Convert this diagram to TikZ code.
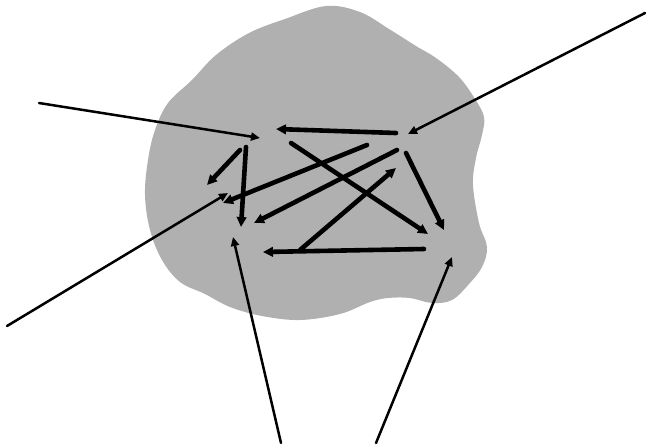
\documentclass[tikz,border=0pt]{standalone}
\usetikzlibrary{arrows.meta}
\begin{document}
\begin{tikzpicture}[x=1pt,y=-1pt,
  ext/.style={line width=2.5pt, line cap=round, -{Triangle[length=9pt,width=8pt]}},
  int/.style={line width=4.6pt, line cap=round, -{Triangle[length=10pt,width=9.5pt]}},
  cloudfill/.style={fill=black!31, draw=none}]
\useasboundingbox (0,0) rectangle (647,445);
% cloud
\fill[cloudfill] plot[smooth cycle, tension=0.6] coordinates {
 (326,6) (360,12) (389,29) (416,46) (436,58) (459,77) (475,99) (484,117)
 (482,135) (476,158) (473,185) (479,223) (487,247) (482,267) (469,284)
 (452,300) (432,303) (410,298) (388,298) (370,302) (340,314) (300,320)
 (262,316) (230,307) (205,294) (180,282) (162,260) (150,230) (145,195)
 (148,160) (155,130) (168,103) (192,80) (216,55) (249,33) (285,19)};
% named points
\coordinate (a0) at (39,103);   \coordinate (a1) at (260,138);
\coordinate (b0) at (645,13);   \coordinate (b1) at (408,134);
\coordinate (c0) at (7,326);    \coordinate (c1) at (228,193);
\coordinate (g0) at (281,443);  \coordinate (g1) at (233,237);
\coordinate (h0) at (376,443);  \coordinate (h1) at (452,257);
\coordinate (t0) at (396,133);  \coordinate (t1) at (276,129);
\coordinate (e0) at (240,150);  \coordinate (e1) at (207,185);
\coordinate (d0) at (246,147);  \coordinate (d1) at (241,227);
\coordinate (x0) at (291,143);  \coordinate (x1) at (428,234);
\coordinate (r0) at (406,153);  \coordinate (r1) at (444,230);
\coordinate (p0) at (367,145);  \coordinate (p1) at (223,203);
\coordinate (q0) at (397,150);  \coordinate (q1) at (254,223);
\coordinate (z0) at (300,250);  \coordinate (z1) at (396,168);
\coordinate (u0) at (424,249);  \coordinate (u1) at (263,252);
% external connectors
\draw[ext] (a0) -- (a1);
\draw[ext] (b0) -- (b1);
\draw[ext] (c0) -- (c1);
\draw[ext] (g0) -- (g1);
\draw[ext] (h0) -- (h1);
% internal connectors
\draw[int] (t0) -- (t1);
\draw[int] (e0) -- (e1);
\draw[int] (d0) -- (d1);
\draw[int] (x0) -- (x1);
\draw[int] (r0) -- (r1);
\draw[int] (p0) -- (p1);
\draw[int] (q0) -- (q1);
\draw[int] (z0) -- (z1);
\draw[int] (u0) -- (u1);
\end{tikzpicture}
\end{document}
